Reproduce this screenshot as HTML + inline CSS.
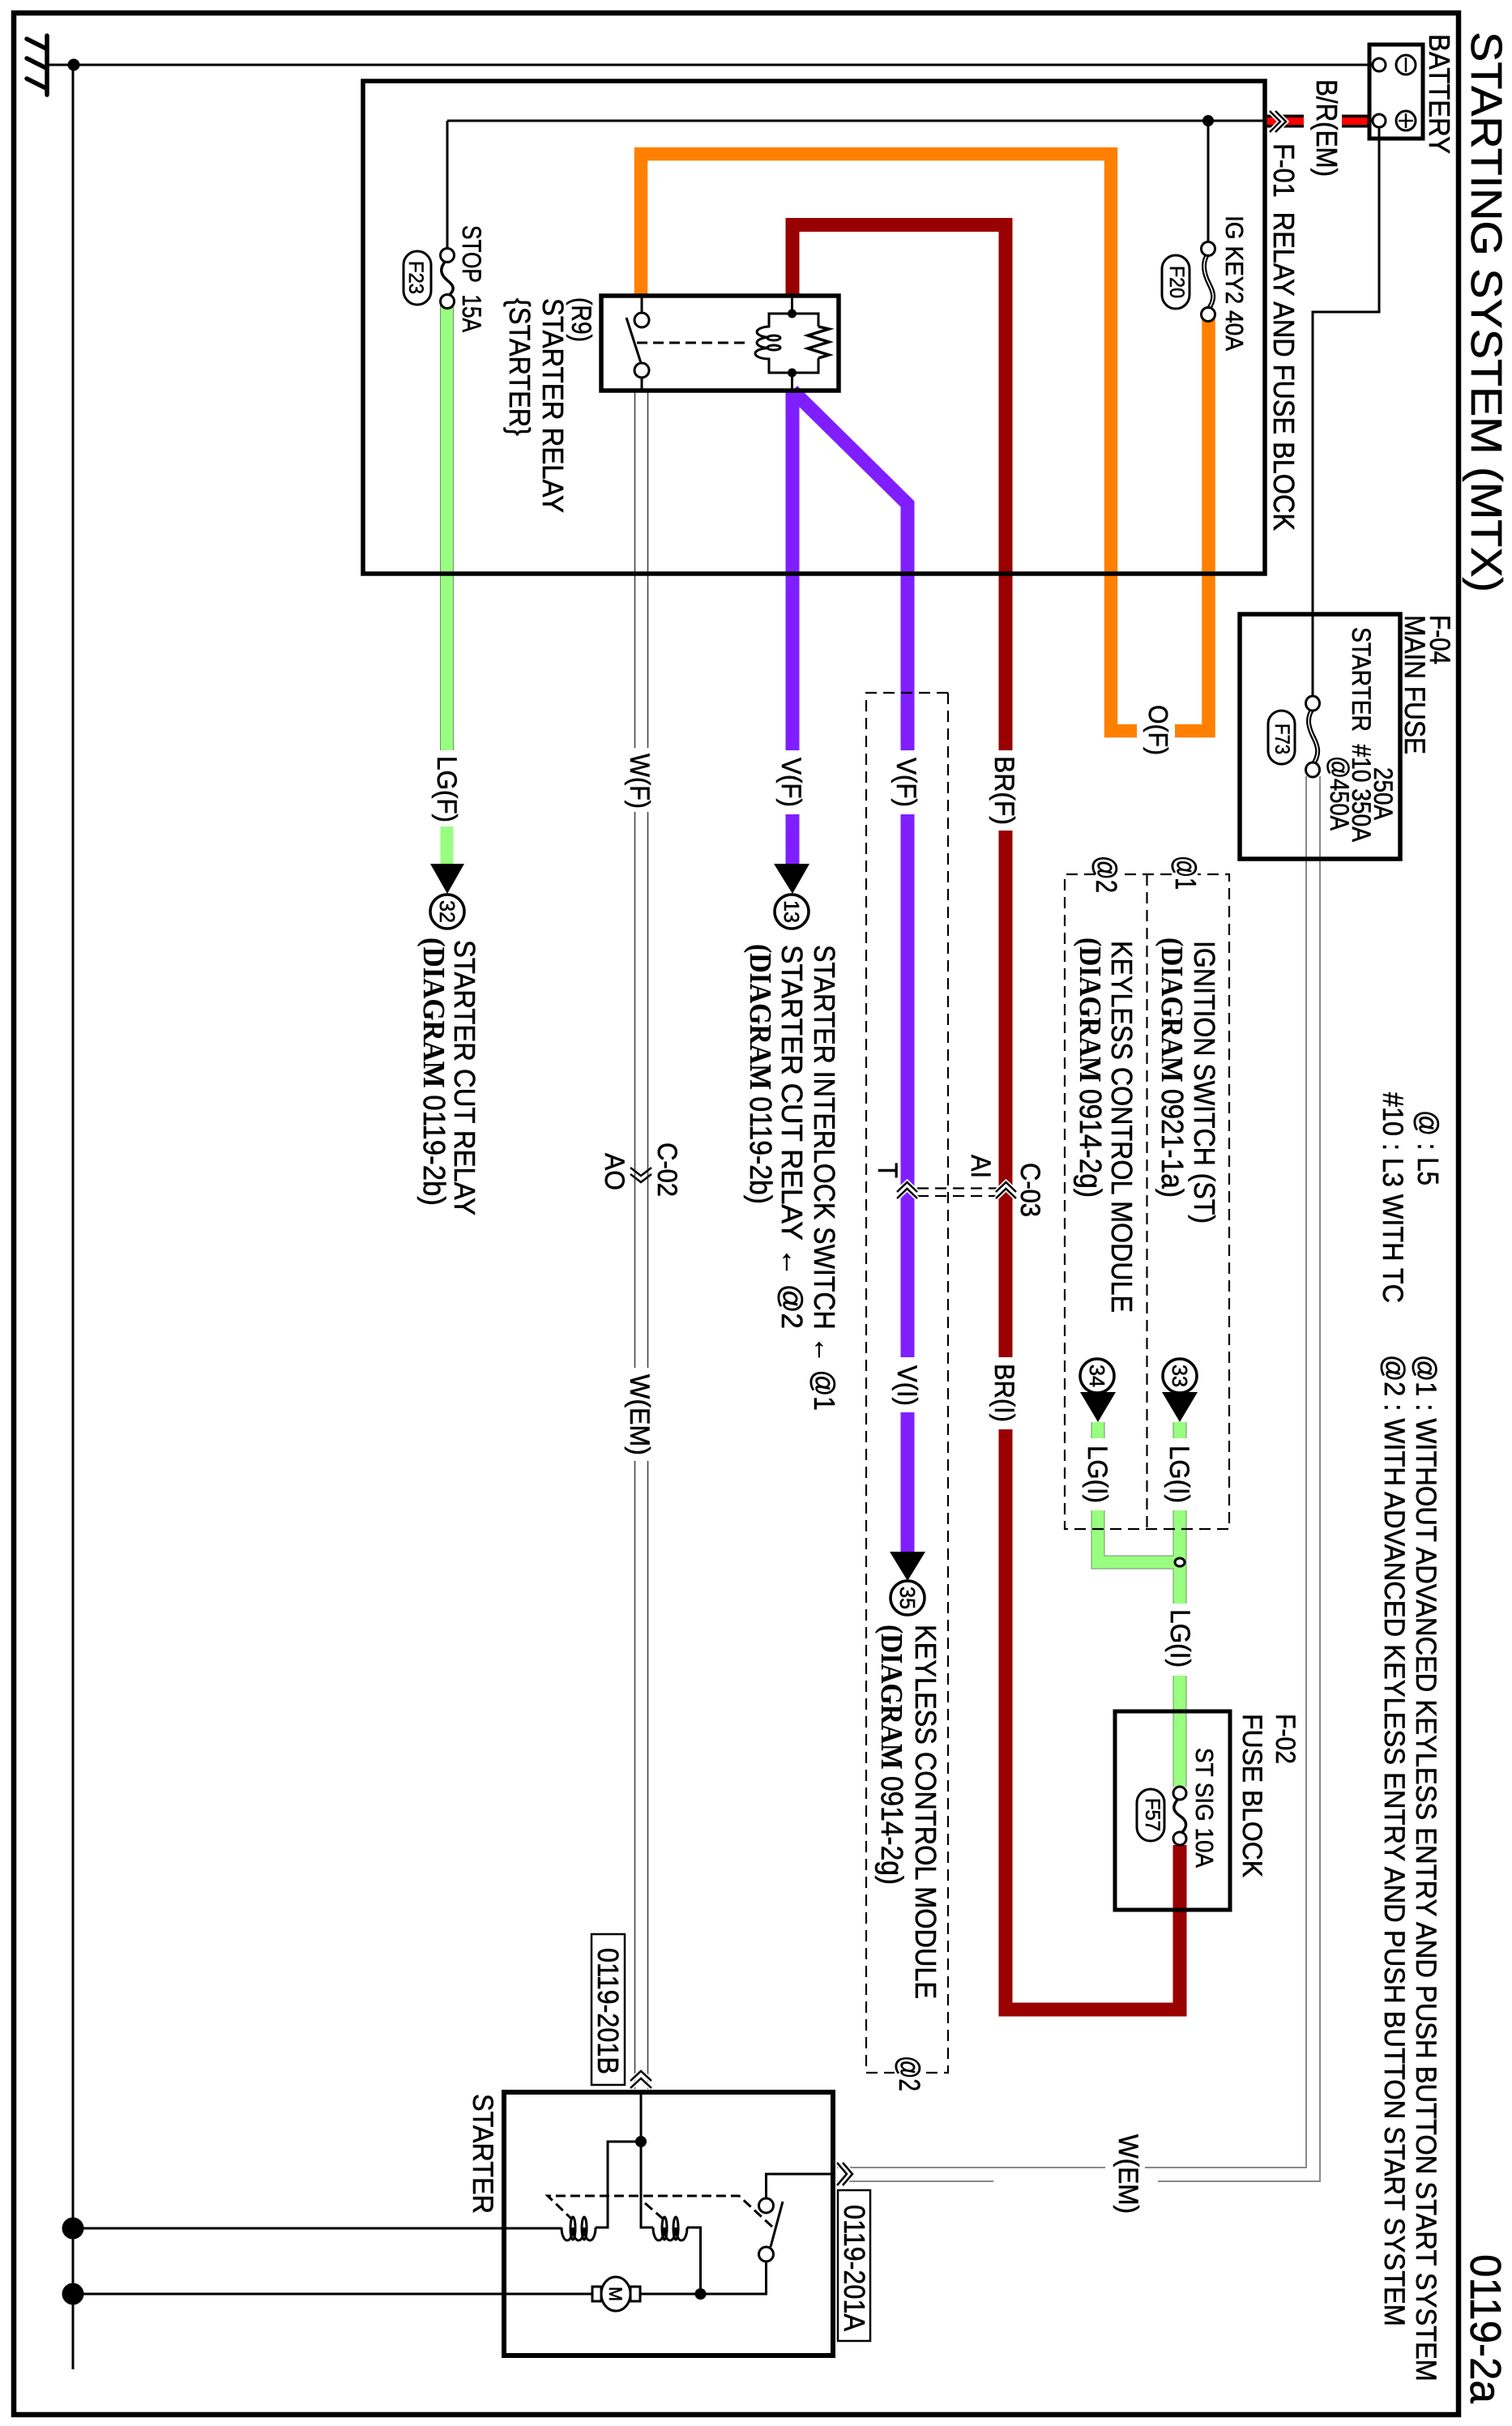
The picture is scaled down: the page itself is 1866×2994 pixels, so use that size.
<!DOCTYPE html>
<html><head><meta charset="utf-8"><style>
html,body{margin:0;padding:0;background:#fff}
svg{display:block}
text{font-family:"Liberation Sans",sans-serif;fill:#000;stroke:#000;stroke-width:.6}
.b{font-family:"Liberation Serif",serif;font-weight:bold;stroke-width:.2}
.b tspan.d{font-family:"Liberation Sans",sans-serif;font-weight:normal;stroke-width:.6}
</style></head><body>
<svg xmlns="http://www.w3.org/2000/svg" width="1866" height="2994" viewBox="0 0 1866 2994">
<rect width="1866" height="2994" fill="#fff"/>
<!-- outer frame -->
<rect x="17" y="16" width="1783" height="2964" fill="none" stroke="#000" stroke-width="6.5"/>
<!-- ground -->
<g stroke="#000" fill="none" stroke-linecap="round">
<path d="M58 44V117" stroke-width="5.5"/>
<path d="M33 48L57 60M33 72L57 84M33 97L57 109" stroke-width="5.5"/>
</g>
<g stroke="#000" fill="none" stroke-width="3">
<path d="M58 80H1694"/>
<path d="M90 80V2924"/>
<path d="M90 2750H693M735 2749H750V2643H791"/>
<path d="M90 2831H731"/>
<path d="M552 149H1561M552 149V307"/>
<path d="M1491 149V299"/>
<path d="M1702 157V385H1620V860"/>
</g>
<circle cx="91" cy="80" r="7.5"/>
<ellipse cx="90" cy="2750" rx="13.5" ry="13.5"/>
<ellipse cx="90" cy="2831" rx="13.5" ry="13.5"/>
<circle cx="1491" cy="149" r="7"/>
<!-- red battery wire -->
<path d="M1561 149.500H1609M1656 149.500H1692" stroke="#000" stroke-width="16" fill="none"/>
<path d="M1561 149.500H1609M1656 149.500H1692" stroke="#ff0000" stroke-width="9" fill="none"/>
<!-- orange -->
<g fill="none" stroke="#ff8000" stroke-width="16.500">
<path d="M791 365V190H1371V902H1403"/>
<path d="M1450 902H1491.500V388"/>
</g>
<!-- dark red -->
<g fill="none" stroke="#990000" stroke-width="17">
<path d="M978 365V277.500H1241V926"/>
<path d="M1241 1025V1675"/>
<path d="M1241 1764V2480H1456V2277"/>
</g>
<!-- purple -->
<g fill="none" stroke="#7f1fff" stroke-width="17">
<path d="M978 482V926"/>
<path d="M978 1005V1066"/>
<path d="M978 482L1120 622V926"/>
<path d="M1120 1005V1675"/>
<path d="M1120 1743V1915"/>
</g>
<!-- green -->
<g fill="none" stroke="#6f8f6a" stroke-width="17">
<path d="M551.500 372V926"/><path d="M1456 1755V1775"/><path d="M1355 1755V1775"/>
<path d="M1355 1864V1928H1456"/><path d="M1456 1864V1979"/><path d="M1456 2068V2205"/>
</g>
<g fill="none" stroke="#99ff80" stroke-width="15">
<path d="M551.500 372V926"/><path d="M551.500 1020V1066" stroke-width="16"/><path d="M1456 1755V1775"/><path d="M1355 1755V1775"/>
<path d="M1355 1864V1928H1456"/><path d="M1456 1864V1979"/><path d="M1456 2068V2205"/>
</g>
<!-- white wire lines -->
<g fill="none" stroke="#444" stroke-width="1.600">
<path d="M783.500 482V923M799.500 482V923"/>
<path d="M783.500 1002V1688M799.500 1002V1688"/>
<path d="M783.500 1803V2578M799.500 1803V2578"/>
</g>
<g fill="none" stroke="#888" stroke-width="2">
<path d="M1612 958V2675H1413M1364 2675H1033"/>
<path d="M1629 958V2692H1429M1226 2692H1033"/>
</g>
<!-- boxes -->
<g fill="none" stroke="#000">
<rect x="448" y="100" width="1113" height="608" stroke-width="5.500"/>
<rect x="742" y="365" width="293" height="117" stroke-width="5.500"/>
<rect x="1530" y="758" width="198" height="302" stroke-width="5.500"/>
<rect x="1376" y="2112" width="142" height="245" stroke-width="5"/>
<rect x="622" y="2582" width="406" height="325" stroke-width="6"/>
<rect x="1690" y="55" width="66" height="116" stroke-width="5"/>
<rect x="730" y="2387" width="41" height="186" stroke-width="2.500"/>
<rect x="1034" y="2703" width="40" height="186" stroke-width="2.500"/>
</g>
<!-- battery terminals -->
<g fill="#fff" stroke="#000" stroke-width="3">
<circle cx="1702" cy="80" r="8"/><circle cx="1702" cy="149" r="8"/>
<circle cx="1735" cy="80" r="12"/><circle cx="1735" cy="149" r="12"/>
</g>
<path d="M1735 71V89M1735 140V158M1726 149H1744" stroke="#000" stroke-width="2.500" fill="none"/>
<!-- dashed boxes -->
<g fill="none" stroke="#000" stroke-width="2.200" stroke-dasharray="14 8">
<path d="M1170 855H1069V2558H1104"/>
<path d="M1170 855V2558H1138"/>
<path d="M1352 1079H1314V1887H1517V1079H1478"/>
<path d="M1446 1079H1382"/>
<path d="M1415.500 1079V1887"/>
<path d="M1132 1466.500H1230M1132 1476H1230"/>
</g>
<!-- fuses -->
<g fill="none" stroke="#000">
<path d="M1491 313C1482 325 1487 340 1492 350C1497 360 1501 368 1491 382" stroke-width="6"/>
<path d="M1491 313C1482 325 1487 340 1492 350C1497 360 1501 368 1491 382" stroke-width="1.500" stroke="#fff"/>
<path d="M1620 875C1611 887 1616 900 1621 910C1626 920 1630 930 1620 944" stroke-width="6"/>
<path d="M1620 875C1611 887 1616 900 1621 910C1626 920 1630 930 1620 944" stroke-width="1.500" stroke="#fff"/>
<path d="M552 320C540 332 545 340 552 346C560 352 563 358 552 366" stroke-width="3.500"/>
<path d="M1456 2218C1444 2230 1449 2236 1456 2241C1464 2246 1468 2254 1456 2264" stroke-width="3.500"/>
</g>
<g fill="#fff" stroke="#000" stroke-width="3">
<circle cx="1491" cy="307" r="8.500"/><circle cx="1491" cy="388" r="8.500"/>
<ellipse cx="1620" cy="868" rx="8.500" ry="9"/><ellipse cx="1620" cy="950" rx="8.500" ry="9"/>
<circle cx="552" cy="315" r="8.500"/><circle cx="552" cy="372" r="8.500"/>
<circle cx="1456" cy="2213" r="8"/><circle cx="1456" cy="2269" r="8"/>
<ellipse cx="1456" cy="1928" rx="6" ry="5"/>
</g>
<!-- fuse tags -->
<g fill="#fff" stroke="#000" stroke-width="3">
<rect x="1434" y="315" width="34" height="66" rx="17"/>
<rect x="498" y="310" width="34" height="66" rx="17"/>
<rect x="1565" y="877" width="33" height="66" rx="16.500"/>
<rect x="1403" y="2208" width="34" height="64" rx="17"/>
</g>
<!-- relay internals -->
<g fill="none" stroke="#000" stroke-width="3">
<path d="M792 365V386M792 466V483"/>
<path d="M773 392L791 448"/>
<path d="M786 423H922" stroke-dasharray="13 7"/>
<path d="M977.500 365V387M977.500 460V483"/>
<path d="M1010 403V387H949V403a17 6.700 0 0 0 0 13.300a17 6.700 0 0 0 0 13.300a17 6.700 0 0 0 0 13.400V460H1010V442"/>
<path d="M1010 403L1023 406L997 414L1023 422L997 430L1023 438L1010 442" stroke-width="3.500"/>
<ellipse cx="955" cy="417" rx="8" ry="3"/><ellipse cx="955" cy="429" rx="8" ry="3"/>
</g>
<circle cx="977.500" cy="387" r="5.500"/><circle cx="977.500" cy="460" r="5.500"/>
<circle cx="792" cy="395" r="9" fill="#fff" stroke="#000" stroke-width="3"/>
<circle cx="792" cy="457" r="9" fill="#fff" stroke="#000" stroke-width="3"/>
<!-- arrows & circles -->
<path d="M531 1066H573L552 1103Z M955 1066H999L978 1103Z M1098 1915H1142L1120 1951Z M1434 1718H1478L1456 1755Z M1333 1718H1377L1355 1755Z"/>
<g fill="#fff" stroke="#000" stroke-width="3.500">
<circle cx="552" cy="1125" r="21"/><circle cx="977" cy="1125" r="21"/><circle cx="1120" cy="1972" r="21"/>
<circle cx="1456" cy="1698" r="21"/><circle cx="1354" cy="1698" r="21"/>
</g>
<!-- chevrons -->
<g fill="none" stroke="#fff" stroke-width="6">
<path d="M1567 137L1580 150L1567 163M1574 137L1587 150L1574 163"/>
<path d="M1107 1471L1119.500 1459L1132 1471M1107 1479L1119.500 1467L1132 1479"/>
<path d="M1229 1471L1241.500 1459L1254 1471M1229 1479L1241.500 1467L1254 1479"/>
<path d="M778 2568L791 2556L804 2568M778 2577L791 2565L804 2577"/>
<path d="M1033 2669L1045 2683L1033 2697M1040 2669L1052 2683L1040 2697"/>
</g>
<g fill="none" stroke="#000" stroke-width="2.500">
<path d="M1567 137L1580 150L1567 163M1574 137L1587 150L1574 163"/>
<path d="M1107 1471L1119.500 1459L1132 1471M1107 1479L1119.500 1467L1132 1479"/>
<path d="M1229 1471L1241.500 1459L1254 1471M1229 1479L1241.500 1467L1254 1479"/>
<path d="M778 1441L791 1451L804 1441M778 1449L791 1459L804 1449"/>
<path d="M778 2568L791 2556L804 2568M778 2577L791 2565L804 2577"/>
<path d="M1033 2669L1045 2683L1033 2697M1040 2669L1052 2683L1040 2697"/>
</g>
<!-- starter internals -->
<g fill="none" stroke="#000" stroke-width="3">
<path d="M791 2582V2749H806"/>
<path d="M848 2749H864.500V2831"/>
<path d="M790 2831H945.500V2791"/>
<path d="M945.500 2713V2683H1028"/>
<path d="M966 2717L951 2773"/>
<path d="M735 2749a7 16 0 0 1 -14 0a7 16 0 0 1 -14 0a7 16 0 0 1 -14 0"/>
<path d="M848 2749a7 16 0 0 1 -14 0a7 16 0 0 1 -14 0a7 16 0 0 1 -14 0"/>
<ellipse cx="721" cy="2750" rx="3" ry="14"/><ellipse cx="707" cy="2750" rx="3" ry="14"/>
<ellipse cx="834" cy="2750" rx="3" ry="14"/><ellipse cx="820" cy="2750" rx="3" ry="14"/>
<path d="M953 2748L912 2710H676L706 2739M796 2719L819 2739" stroke-dasharray="12 6"/>
<rect x="731" y="2822" width="11" height="18"/><rect x="778" y="2822" width="12" height="18"/>
</g>
<circle cx="791" cy="2643" r="7"/><circle cx="864.500" cy="2831" r="7"/>
<ellipse cx="760" cy="2831" rx="18" ry="21" fill="#fff" stroke="#000" stroke-width="3"/>
<circle cx="945.500" cy="2722" r="9" fill="#fff" stroke="#000" stroke-width="3"/>
<circle cx="945.500" cy="2782" r="9" fill="#fff" stroke="#000" stroke-width="3"/>
<!-- text -->
<g>
<text transform="translate(1816,39) rotate(90)" font-size="54" textLength="692" lengthAdjust="spacingAndGlyphs">STARTING SYSTEM (MTX)</text>
<text transform="translate(1815,2782) rotate(90)" font-size="54" textLength="184" lengthAdjust="spacingAndGlyphs">0119-2a</text>
<text transform="translate(1764,42) rotate(90)" font-size="36" textLength="148" lengthAdjust="spacingAndGlyphs">BATTERY</text>
<text transform="translate(1625,98) rotate(90)" font-size="36" textLength="120" lengthAdjust="spacingAndGlyphs">B/R(EM)</text>
<text transform="translate(1572,177) rotate(90)" font-size="36" textLength="478" lengthAdjust="spacingAndGlyphs">F-01&#160; RELAY AND FUSE BLOCK</text>
<text transform="translate(1513,266) rotate(90)" font-size="31" textLength="167" lengthAdjust="spacingAndGlyphs">IG KEY2 40A</text>
<text transform="translate(1444,328) rotate(90)" font-size="25" textLength="40" lengthAdjust="spacingAndGlyphs">F20</text>
<text transform="translate(571,278) rotate(90)" font-size="32" textLength="132" lengthAdjust="spacingAndGlyphs">STOP&#160; 15A</text>
<text transform="translate(505,322) rotate(90)" font-size="25" textLength="41" lengthAdjust="spacingAndGlyphs">F23</text>
<text transform="translate(706,367) rotate(90)" font-size="34" textLength="55" lengthAdjust="spacingAndGlyphs">(R9)</text>
<text transform="translate(670,368) rotate(90)" font-size="36" textLength="265" lengthAdjust="spacingAndGlyphs">STARTER RELAY</text>
<text transform="translate(629,368) rotate(90)" font-size="36" textLength="170" lengthAdjust="spacingAndGlyphs">{STARTER}</text>
<text transform="translate(1418,870) rotate(90)" font-size="33" textLength="62" lengthAdjust="spacingAndGlyphs">O(F)</text>
<text transform="translate(1228,933) rotate(90)" font-size="34" textLength="85" lengthAdjust="spacingAndGlyphs">BR(F)</text>
<text transform="translate(1107,935) rotate(90)" font-size="34" textLength="61" lengthAdjust="spacingAndGlyphs">V(F)</text>
<text transform="translate(965,935) rotate(90)" font-size="34" textLength="61" lengthAdjust="spacingAndGlyphs">V(F)</text>
<text transform="translate(778,930) rotate(90)" font-size="34" textLength="68" lengthAdjust="spacingAndGlyphs">W(F)</text>
<text transform="translate(540,933) rotate(90)" font-size="34" textLength="82" lengthAdjust="spacingAndGlyphs">LG(F)</text>
<text transform="translate(1765,759) rotate(90)" font-size="35" textLength="61" lengthAdjust="spacingAndGlyphs">F-04</text>
<text transform="translate(1734,759) rotate(90)" font-size="35" textLength="172" lengthAdjust="spacingAndGlyphs">MAIN FUSE</text>
<text transform="translate(1669,774) rotate(90)" font-size="32" textLength="265" lengthAdjust="spacingAndGlyphs">STARTER&#160; #10 350A</text>
<text transform="translate(1696,947) rotate(90)" font-size="32" textLength="65" lengthAdjust="spacingAndGlyphs">250A</text>
<text transform="translate(1642,933) rotate(90)" font-size="32" textLength="92" lengthAdjust="spacingAndGlyphs">@450A</text>
<text transform="translate(1574,893) rotate(90)" font-size="25" textLength="38" lengthAdjust="spacingAndGlyphs">F73</text>
<text transform="translate(1451,1056) rotate(90)" font-size="36" textLength="42" lengthAdjust="spacingAndGlyphs">@1</text>
<text transform="translate(1353,1056) rotate(90)" font-size="36" textLength="46" lengthAdjust="spacingAndGlyphs">@2</text>
<text transform="translate(1474,1161) rotate(90)" font-size="36" textLength="349" lengthAdjust="spacingAndGlyphs">IGNITION SWITCH (ST)</text>
<text class="b" transform="translate(1434,1157) rotate(90)" font-size="38" textLength="321" lengthAdjust="spacingAndGlyphs">(DIAGRAM <tspan class="d">0921-1a)</tspan></text>
<text transform="translate(1372,1161) rotate(90)" font-size="36" textLength="459" lengthAdjust="spacingAndGlyphs">KEYLESS CONTROL MODULE</text>
<text class="b" transform="translate(1333,1157) rotate(90)" font-size="38" textLength="321" lengthAdjust="spacingAndGlyphs">(DIAGRAM <tspan class="d">0914-2g)</tspan></text>
<text transform="translate(1750,1370) rotate(90)" font-size="36" textLength="93" lengthAdjust="spacingAndGlyphs">@ : L5</text>
<text transform="translate(1707,1348) rotate(90)" font-size="35" textLength="260" lengthAdjust="spacingAndGlyphs">#10 : L3 WITH TC</text>
<text transform="translate(1748,1672) rotate(90)" font-size="35" textLength="1267" lengthAdjust="spacingAndGlyphs">@1 : WITHOUT ADVANCED KEYLESS ENTRY AND PUSH BUTTON START SYSTEM</text>
<text transform="translate(1709,1672) rotate(90)" font-size="35" textLength="1199" lengthAdjust="spacingAndGlyphs">@2 : WITH ADVANCED KEYLESS ENTRY AND PUSH BUTTON START SYSTEM</text>
<text transform="translate(561,1160) rotate(90)" font-size="36" textLength="340" lengthAdjust="spacingAndGlyphs">STARTER CUT RELAY</text>
<text class="b" transform="translate(523,1157) rotate(90)" font-size="38" textLength="331" lengthAdjust="spacingAndGlyphs">(DIAGRAM <tspan class="d">0119-2b)</tspan></text>
<text transform="translate(1005,1166) rotate(90)" font-size="36" textLength="575" lengthAdjust="spacingAndGlyphs">STARTER INTERLOCK SWITCH ← @1</text>
<text transform="translate(965,1166) rotate(90)" font-size="36" textLength="474" lengthAdjust="spacingAndGlyphs">STARTER CUT RELAY ← @2</text>
<text class="b" transform="translate(926,1165) rotate(90)" font-size="38" textLength="321" lengthAdjust="spacingAndGlyphs">(DIAGRAM <tspan class="d">0119-2b)</tspan></text>
<text transform="translate(812,1410) rotate(90)" font-size="34" textLength="67" lengthAdjust="spacingAndGlyphs">C-02</text>
<text transform="translate(747,1423) rotate(90)" font-size="34" textLength="46" lengthAdjust="spacingAndGlyphs">AO</text>
<text transform="translate(778,1696) rotate(90)" font-size="34" textLength="100" lengthAdjust="spacingAndGlyphs">W(EM)</text>
<text transform="translate(1260,1435) rotate(90)" font-size="34" textLength="67" lengthAdjust="spacingAndGlyphs">C-03</text>
<text transform="translate(1199,1425) rotate(90)" font-size="34" textLength="29" lengthAdjust="spacingAndGlyphs">AI</text>
<text transform="translate(1084,1435) rotate(90)" font-size="34" textLength="19" lengthAdjust="spacingAndGlyphs">T</text>
<text transform="translate(1228,1683) rotate(90)" font-size="34" textLength="72" lengthAdjust="spacingAndGlyphs">BR(I)</text>
<text transform="translate(1108,1685) rotate(90)" font-size="34" textLength="50" lengthAdjust="spacingAndGlyphs">V(I)</text>
<text transform="translate(1444,1784) rotate(90)" font-size="34" textLength="71" lengthAdjust="spacingAndGlyphs">LG(I)</text>
<text transform="translate(1343,1784) rotate(90)" font-size="34" textLength="71" lengthAdjust="spacingAndGlyphs">LG(I)</text>
<text transform="translate(1445,1986) rotate(90)" font-size="34" textLength="72" lengthAdjust="spacingAndGlyphs">LG(I)</text>
<text transform="translate(1130,2005) rotate(90)" font-size="36" textLength="462" lengthAdjust="spacingAndGlyphs">KEYLESS CONTROL MODULE</text>
<text class="b" transform="translate(1088,2005) rotate(90)" font-size="38" textLength="321" lengthAdjust="spacingAndGlyphs">(DIAGRAM <tspan class="d">0914-2g)</tspan></text>
<text transform="translate(1110,2537) rotate(90)" font-size="36" textLength="44" lengthAdjust="spacingAndGlyphs">@2</text>
<text transform="translate(1575,2115) rotate(90)" font-size="34" textLength="62" lengthAdjust="spacingAndGlyphs">F-02</text>
<text transform="translate(1534,2115) rotate(90)" font-size="34" textLength="202" lengthAdjust="spacingAndGlyphs">FUSE BLOCK</text>
<text transform="translate(1476,2157) rotate(90)" font-size="31" textLength="148" lengthAdjust="spacingAndGlyphs">ST SIG 10A</text>
<text transform="translate(1414,2219) rotate(90)" font-size="25" textLength="41" lengthAdjust="spacingAndGlyphs">F57</text>
<text transform="translate(1381,2634) rotate(90)" font-size="34" textLength="98" lengthAdjust="spacingAndGlyphs">W(EM)</text>
<text transform="translate(584,2584) rotate(90)" font-size="35" textLength="148" lengthAdjust="spacingAndGlyphs">STARTER</text>
<text transform="translate(738,2404) rotate(90)" font-size="36" textLength="156" lengthAdjust="spacingAndGlyphs">0119-201B</text>
<text transform="translate(1042,2721) rotate(90)" font-size="36" textLength="156" lengthAdjust="spacingAndGlyphs">0119-201A</text>
<text transform="translate(543,1111) rotate(90)" font-size="26" textLength="28" lengthAdjust="spacingAndGlyphs">32</text>
<text transform="translate(968,1111) rotate(90)" font-size="26" textLength="28" lengthAdjust="spacingAndGlyphs">13</text>
<text transform="translate(1111,1958) rotate(90)" font-size="26" textLength="28" lengthAdjust="spacingAndGlyphs">35</text>
<text transform="translate(1447,1684) rotate(90)" font-size="26" textLength="28" lengthAdjust="spacingAndGlyphs">33</text>
<text transform="translate(1345,1684) rotate(90)" font-size="26" textLength="28" lengthAdjust="spacingAndGlyphs">34</text>
<text transform="translate(752,2822) rotate(90)" font-size="22" textLength="18" lengthAdjust="spacingAndGlyphs">M</text>
</g>
</svg>
</body></html>
